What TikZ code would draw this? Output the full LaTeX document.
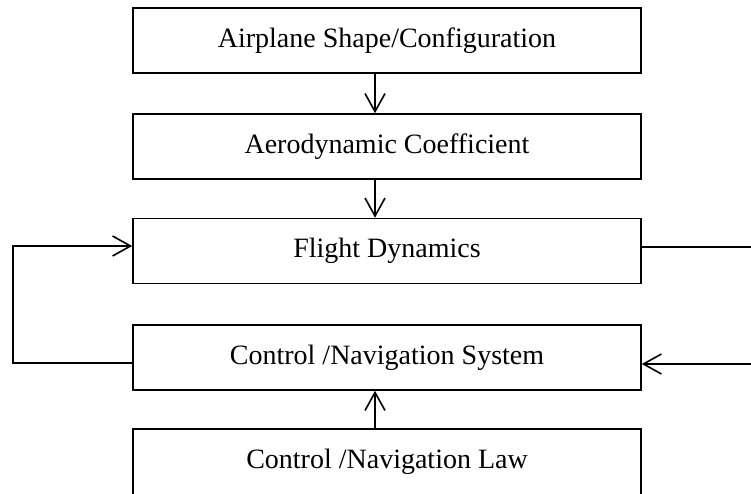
\documentclass[tikz,border=0pt]{standalone}
\usepackage{fontspec}
\setmainfont{Liberation Serif}
\usetikzlibrary{arrows.meta,calc}
\begin{document}
\begin{tikzpicture}[x=1pt,y=-1pt,
  box/.style={draw,line width=1.6pt,minimum width=508pt,minimum height=65pt,inner sep=0pt,
    font=\fontsize{28}{32}\selectfont,anchor=center},
  conn/.style={line width=1.6pt,-{Straight Barb[length=18pt,width=20pt,line width=1.6pt]}},
  line/.style={line width=1.6pt}]
\useasboundingbox (0,0) rectangle (751,493);
\clip (0,0) rectangle (751,493);
\node[box] (b1) at (387,40.5) {Airplane Shape/Configuration};
\node[box] (b2) at (387,146.5) {Aerodynamic Coefficient};
\node[box] (b3) at (387,251) {Flight Dynamics};
\node[box] (b4) at (387,357.5) {Control /Navigation System};
\node[box,minimum height=85pt,
  label={[font=\fontsize{28}{32}\selectfont,yshift=10pt]center:Control /Navigation Law}]
  (b5) at (387,471.5) {};
\coordinate (ax) at (375,0);
\coordinate (lx) at (13,0);
\coordinate (rout) at (751,247);
\coordinate (rin) at (751,364);
\draw[conn] (b1.south -| ax) -- (b2.north -| ax);
\draw[conn] (b2.south -| ax) -- (b3.north -| ax);
\draw[conn] (b5.north -| ax) -- (b4.south -| ax);
\draw[conn] ($(b4.west)+(0,5.5)$) -| (lx |- b4.west) |- ($(b3.west)+(0,-5)$);
\draw[line] (b3.east |- rout) -- (rout);
\draw[conn] (rin) -- (b4.east |- rin);
\end{tikzpicture}
\end{document}
